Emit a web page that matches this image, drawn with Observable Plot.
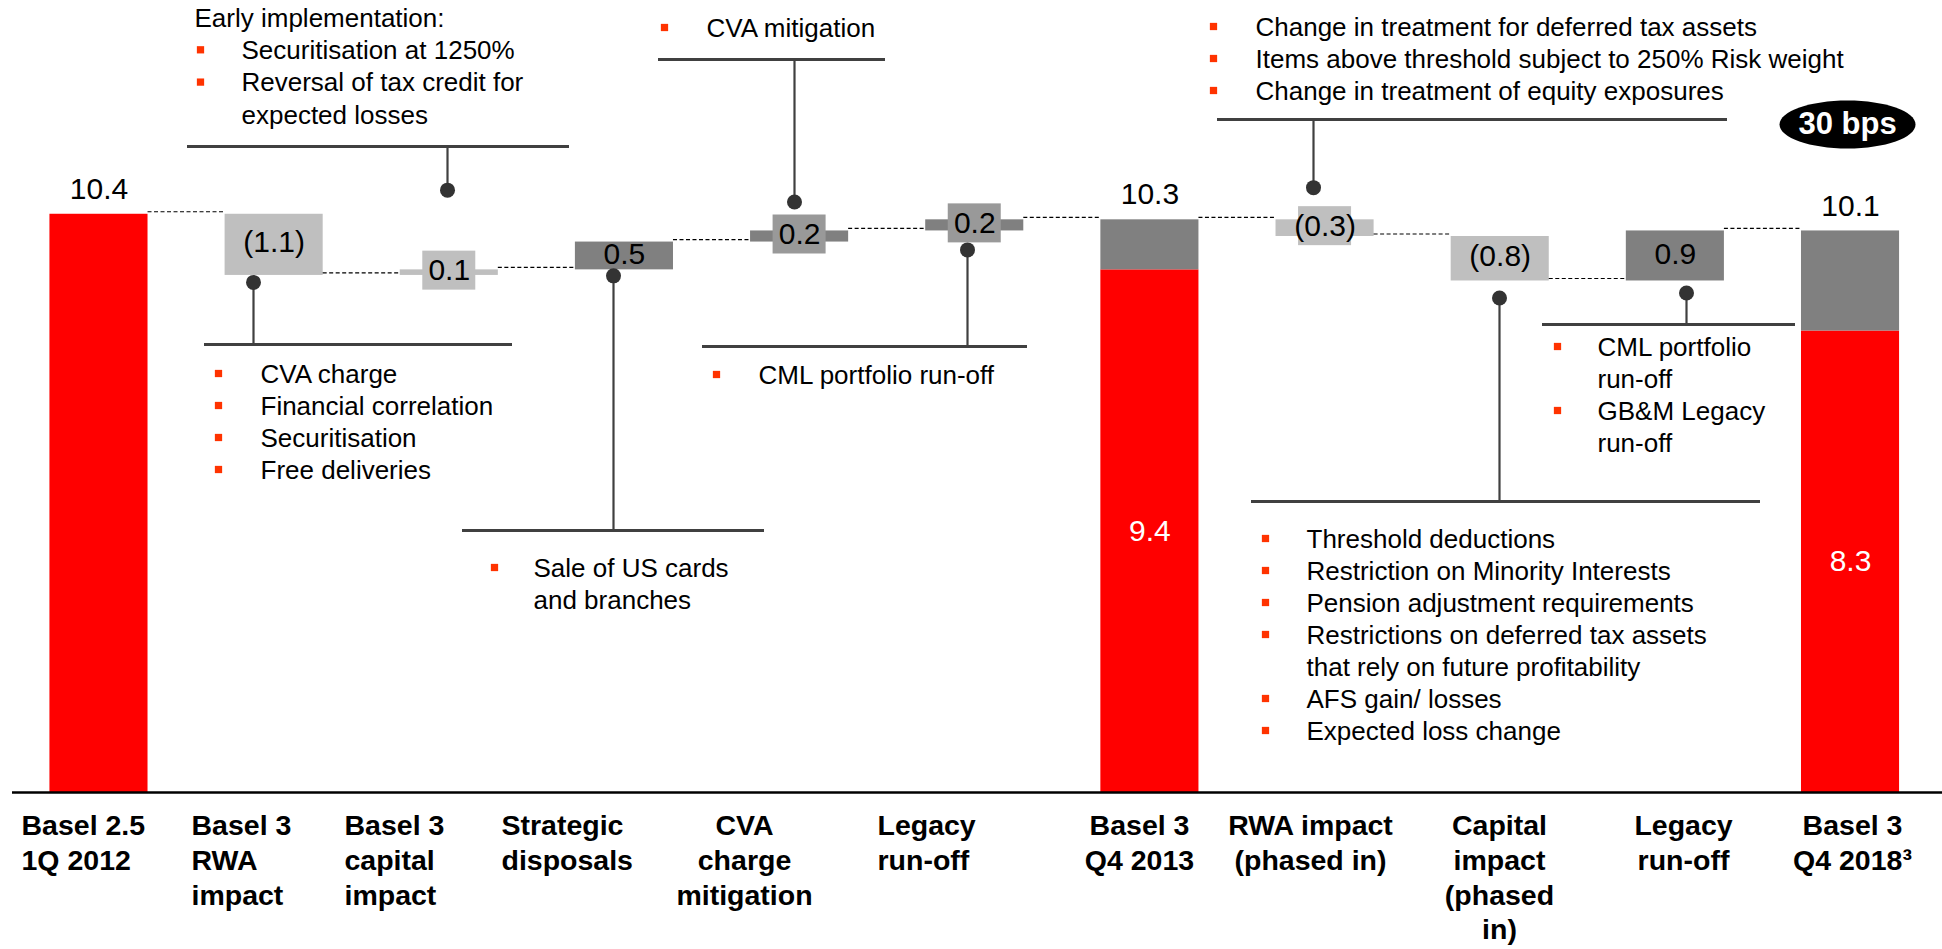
<!DOCTYPE html>
<html><head><meta charset="utf-8">
<script src="https://cdn.jsdelivr.net/npm/d3@7"></script>
<script src="https://cdn.jsdelivr.net/npm/@observablehq/plot@0.6"></script>
<style>
html,body{margin:0;padding:0;background:#fff;}
#chart{width:1942px;height:949px;overflow:hidden;}
</style></head><body><div id="chart"></div>
<script>
// ---------------- DATA ----------------
const stepIds = ["b25","rwa","cap","disp","cva","leg1","q413","rwa2","cap2","leg2","q418"];
const stepLabels = ["Basel 2.5\n1Q 2012","Basel 3\nRWA\nimpact","Basel 3\ncapital\nimpact","Strategic\ndisposals","CVA\ncharge\nmitigation","Legacy\nrun-off","Basel 3\nQ4 2013","RWA impact\n(phased in)","Capital\nimpact\n(phased\nin)","Legacy\nrun-off","Basel 3\nQ4 2018³"];
const stepKind = ["total","regulatory","regulatory","management","management","management","total","regulatory","regulatory","management","total"];
const stepValue = [10.4, -1.1, 0.1, 0.5, 0.2, 0.2, 10.3, -0.3, -0.8, 0.9, 10.1];
const coreValue = [10.4, null, null, null, null, null, 9.4, null, null, null, 8.3];
const badgeText = "30 bps";
const notes = {
  cap:  [["Early implementation:","h"],["Securitisation at 1250%","b"],["Reversal of tax credit for","b"],["expected losses","c"]],
  cva:  [["CVA mitigation","b"]],
  rwa2: [["Change in treatment for deferred tax assets","b"],["Items above threshold subject to 250% Risk weight","b"],["Change in treatment of equity exposures","b"]],
  rwa:  [["CVA charge","b"],["Financial correlation","b"],["Securitisation","b"],["Free deliveries","b"]],
  disp: [["Sale of US cards","b"],["and branches","c"]],
  leg1: [["CML portfolio run-off","b"]],
  cap2: [["Threshold deductions","b"],["Restriction on Minority Interests","b"],["Pension adjustment requirements","b"],["Restrictions on deferred tax assets","b"],["that rely on future profitability","c"],["AFS gain/ losses","b"],["Expected loss change","b"]],
  leg2: [["CML portfolio","b"],["run-off","c"],["GB&M Legacy","b"],["run-off","c"]]
};

// ---------------- LAYOUT / STYLE ----------------
const W = 1942, H = 949, BASE = 792, PXU = 55.6;
const FONT = "'Liberation Sans', Arial, Helvetica, sans-serif";
const colors = {core:"#ff0000", other:"#808080", regulatory:"#bfbfbf", management:"#808080"};
const boxColors = {regulatory:"#bfbfbf", management:"#999999"};
const xOpt = {type:"band", domain: stepIds, range:[10.9, 1937.6], paddingInner:0.44, paddingOuter:0.22, round:false};
const yOpt = {domain:[0, BASE/PXU], range:[BASE, 0]};
const xs = Plot.scale({x: xOpt});
const ys = Plot.scale({y: yOpt});
const bw = xs.bandwidth, stepPx = xs.step;
const center = id => xs.apply(id) + bw/2;
const lv = px => ys.invert(px);

const tickX = [21,191,344,501,744,877,1139,1310,1499,1683,1852];
const tickAnchor = ["start","start","start","start","middle","start","middle","middle","middle","middle","middle"];

const noteLayout = {
  cap:  {side:"top",    dotGap:61, stemX:447,  bracketY:146, bl:187,  br:569,  bulletX:200,  textX:241,  headX:194, firstY:18,  gap:32.3},
  cva:  {side:"top",    dotGap:13, stemX:794,  bracketY:59,  bl:658,  br:885,  bulletX:664,  textX:706,  firstY:28,  gap:32},
  rwa2: {side:"top",    dotGap:19, stemX:1313, bracketY:119, bl:1217, br:1727, bulletX:1213, textX:1255, firstY:27,  gap:32},
  rwa:  {side:"bottom", dotGap:7,  stemX:253,  bracketY:344, bl:204,  br:512,  bulletX:218,  textX:260,  firstY:374, gap:32},
  disp: {side:"bottom", dotGap:6,  stemX:613,  bracketY:530, bl:462,  br:764,  bulletX:494,  textX:533,  firstY:568, gap:32},
  leg1: {side:"bottom", dotGap:7,  stemX:967,  bracketY:346, bl:702,  br:1027, bulletX:716,  textX:758,  firstY:375, gap:32},
  cap2: {side:"bottom", dotGap:17, stemX:1499, bracketY:501, bl:1251, br:1760, bulletX:1265, textX:1306, firstY:539, gap:32},
  leg2: {side:"bottom", dotGap:12, stemX:1686, bracketY:324, bl:1542, br:1795, bulletX:1557, textX:1597, firstY:347, gap:32}
};

// ---------------- DERIVED ROWS ----------------
const r1 = v => Math.round(v*10)/10;
const bars = [], deltas = [], totals = [], cores = [], links = [];
const info = {};
let level = 0;
stepIds.forEach((id, i) => {
  const kind = stepKind[i], v = stepValue[i];
  if (kind === "total") {
    const c = coreValue[i];
    bars.push({id, y1:0, y2:c, fill:"core"});
    if (v > c) { bars.push({id, y1:c, y2:v, fill:"other"}); cores.push({id, y:c/2, text:c.toFixed(1)}); }
    totals.push({id, y:v, text:v.toFixed(1)});
    level = v;
    info[id] = {top:v, bottom:0};
  } else {
    const s = level, e = r1(level + v);
    bars.push({id, y1:s, y2:e, fill:kind});
    const mid = (s+e)/2;
    const boxed = Math.abs(v) <= 0.3;
    deltas.push({id, y:mid, text: v < 0 ? `(${Math.abs(v).toFixed(1)})` : v.toFixed(1), boxed, kind,
                 b1: mid - 19.5/PXU, b2: mid + 19.5/PXU});
    info[id] = {top:Math.max(s,e), bottom:Math.min(s,e), mid, boxed};
    level = e;
  }
  if (i < stepIds.length - 1) links.push({id, y: level});
});

// ---------------- MARKS ----------------
const marks = [
  Plot.barY(bars, {x:"id", y1:"y1", y2:"y2", fill: d => colors[d.fill]}),
  Plot.tickY(links, {x:"id", y:"y", insetLeft: bw, insetRight: -(stepPx - bw), dy:-2.5,
                     stroke:"#000", strokeWidth:1.2, strokeDasharray:"4,2.5"}),
  Plot.barY(deltas.filter(d => d.boxed), {x:"id", y1:"b1", y2:"b2", dy:-2,
            insetLeft:(bw-53)/2, insetRight:(bw-53)/2, fill: d => boxColors[d.kind]}),
  Plot.text(deltas, {x:"id", y:"y", text:"text", dy:-2, fontSize:30, fill:"#000"}),
  Plot.text(totals, {x:"id", y:"y", text:"text", dy:-25, fontSize:30, fill:"#000"}),
  Plot.text(cores, {x:"id", y:"y", text:"text", fontSize:30, fill:"#fff"}),
  Plot.ruleY([0], {stroke:"#000", strokeWidth:2.5})
];

// category labels
stepIds.forEach((id, i) => {
  marks.push(Plot.text([{id, y:0, t: stepLabels[i]}], {x:"id", y:"y", text:"t", dx: tickX[i] - center(id), dy:18,
    textAnchor: tickAnchor[i], lineAnchor:"top", lineHeight:1.218, fontSize:28.5, fontWeight:"bold", fill:"#000"}));
});

// callouts
Object.entries(noteLayout).forEach(([id, L]) => {
  const c = center(id), inf = info[id];
  let endPx;
  if (L.side === "top") {
    endPx = ys.apply(inf.top);
    if (inf.boxed) endPx = Math.min(endPx, ys.apply(inf.mid) - 2 - 19.5);
  } else {
    endPx = ys.apply(inf.bottom);
    if (inf.boxed) endPx = Math.max(endPx, ys.apply(inf.mid) - 2 + 19.5);
  }
  const dotPx = L.side === "top" ? endPx - L.dotGap : endPx + L.dotGap;
  marks.push(Plot.ruleX([{id, y1: lv(dotPx), y2: lv(L.bracketY)}], {x:"id", y1:"y1", y2:"y2", dx: L.stemX - c, stroke:"#404040", strokeWidth:2.2}));
  marks.push(Plot.tickY([{id, y: lv(L.bracketY)}], {x:"id", y:"y", insetLeft: L.bl - xs.apply(id), insetRight: xs.apply(id) + bw - L.br, stroke:"#404040", strokeWidth:3}));
  marks.push(Plot.dot([{id, y: lv(dotPx)}], {x:"id", y:"y", dx: L.stemX - c, r:7.5, fill:"#333", stroke:null}));
  const lines = notes[id].map(([t, type], k) => ({id, t, type, y: lv(L.firstY + k*L.gap)}));
  marks.push(Plot.text(lines.filter(d => d.type !== "h"), {x:"id", y:"y", text:"t", dx: L.textX - c, textAnchor:"start", fontSize:26, fill:"#000"}));
  if (lines.some(d => d.type === "h"))
    marks.push(Plot.text(lines.filter(d => d.type === "h"), {x:"id", y:"y", text:"t", dx: L.headX - c, textAnchor:"start", fontSize:26, fill:"#000"}));
  marks.push(Plot.dot(lines.filter(d => d.type === "b"), {x:"id", y:"y", dx: L.bulletX - c, dy:-1, symbol:"square", r:4.1, fill:"#ff3300", stroke:null}));
});

// badge
const ellipse = {draw(ctx) { const rx = 68, ry = 24, k = 0.5523;
  ctx.moveTo(rx,0); ctx.bezierCurveTo(rx, ry*k, rx*k, ry, 0, ry); ctx.bezierCurveTo(-rx*k, ry, -rx, ry*k, -rx, 0);
  ctx.bezierCurveTo(-rx, -ry*k, -rx*k, -ry, 0, -ry); ctx.bezierCurveTo(rx*k, -ry, rx, -ry*k, rx, 0); ctx.closePath(); }};
marks.push(Plot.dot([{id:"q418", y: lv(124)}], {x:"id", y:"y", dx:-3, symbol: ellipse, r:10, fill:"#000", stroke:null}));
marks.push(Plot.text([{id:"q418", y: lv(124), t: badgeText}], {x:"id", y:"y", text:"t", dx:-3, fontSize:31, fontWeight:"bold", fill:"#fff"}));

const plot = Plot.plot({
  width: W, height: H, marginTop:0, marginBottom: H - BASE, marginLeft:12, marginRight:0,
  x: {...xOpt, axis:null}, y: {...yOpt, axis:null},
  style: {fontFamily: FONT, background:"#fff", overflow:"visible"},
  marks
});
document.getElementById("chart").appendChild(plot);
</script></body></html>
